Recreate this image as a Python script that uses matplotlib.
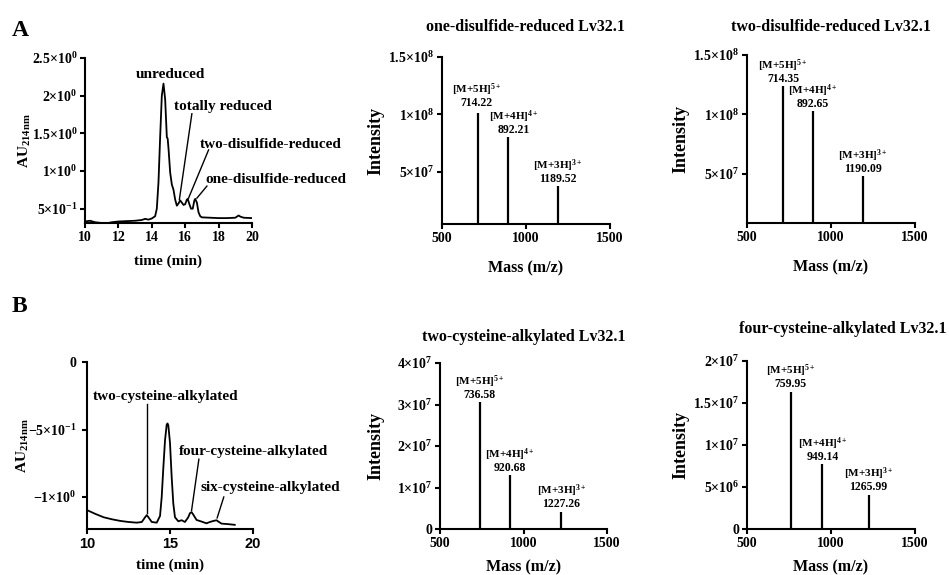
import numpy as np
import matplotlib
matplotlib.use("Agg")
import matplotlib.pyplot as plt

plt.rcParams['font.family'] = ['Liberation Serif', 'DejaVu Serif']
plt.rcParams['font.weight'] = 'bold'
plt.rcParams['axes.labelweight'] = 'bold'
plt.rcParams['axes.titleweight'] = 'bold'
plt.rcParams['mathtext.fontset'] = 'custom'
plt.rcParams['mathtext.rm'] = 'Liberation Serif:bold'
plt.rcParams['mathtext.bf'] = 'Liberation Serif:bold'
plt.rcParams['mathtext.it'] = 'Liberation Serif:bold:italic'

# --- chromatogram A (reduction) ---
a_time = [10.0, 10.3, 10.6, 11.0, 11.3, 11.6, 12.0, 12.5, 13.0, 13.4, 13.6, 13.8, 14.0,
          14.2, 14.3, 14.4, 14.5, 14.6, 14.7, 14.8, 14.9, 14.95, 15.0, 15.1, 15.2, 15.3,
          15.4, 15.5, 15.6, 15.7, 15.8, 15.9, 16.0, 16.1, 16.15, 16.25, 16.35, 16.45,
          16.55, 16.6, 16.7, 16.8, 16.9, 17.0, 17.5, 18.0, 18.5, 19.0, 19.1, 19.2, 19.3,
          19.5, 20.0]
a_au = [0.33, 0.34, 0.32, 0.31, 0.305, 0.32, 0.33, 0.335, 0.34, 0.35, 0.365, 0.355, 0.37,
        0.40, 0.50, 0.85, 1.45, 2.0, 2.16, 1.95, 1.45, 1.43, 1.30, 0.98, 0.82, 0.75,
        0.62, 0.54, 0.57, 0.61, 0.58, 0.55, 0.56, 0.62, 0.63, 0.56, 0.50, 0.50,
        0.61, 0.63, 0.58, 0.45, 0.40, 0.385, 0.38, 0.375, 0.375, 0.38, 0.395, 0.41, 0.395,
        0.38, 0.375]
a_yticks = [0.5, 1.0, 1.5, 2.0, 2.5]
a_yticklabels = [r"$5{\times}10^{-1}$", r"$1{\times}10^{0}$", r"$1.5{\times}10^{0}$",
                 r"$2{\times}10^{0}$", r"$2.5{\times}10^{0}$"]

# --- chromatogram B (alkylation) ---
b_time = [10.0, 10.5, 11.0, 11.5, 12.0, 12.5, 13.0, 13.3, 13.5, 13.6, 13.7, 13.9, 14.2,
          14.4, 14.5, 14.6, 14.7, 14.8, 14.85, 14.9, 15.0, 15.1, 15.2, 15.3, 15.5, 15.7,
          15.9, 16.1, 16.2, 16.3, 16.4, 16.6, 16.9, 17.2, 17.4, 17.6, 17.8, 17.95, 18.1,
          18.5, 18.9]
b_au = [-1.097, -1.125, -1.15, -1.165, -1.177, -1.185, -1.19, -1.185, -1.15, -1.134, -1.15,
        -1.185, -1.19, -1.14, -1.0, -0.78, -0.58, -0.465, -0.455, -0.47, -0.6, -0.85,
        -1.05, -1.15, -1.18, -1.172, -1.185, -1.15, -1.12, -1.112, -1.13, -1.17, -1.182,
        -1.195, -1.185, -1.178, -1.172, -1.185, -1.197, -1.201, -1.206]
b_yticks = [0.0, -0.5, -1.0]
b_yticklabels = ["0", r"$-5{\times}10^{-1}$", r"$-1{\times}10^{0}$"]

# --- mass spectra ---
ions = [r"[M+5H]$^{5+}$", r"[M+4H]$^{4+}$", r"[M+3H]$^{3+}$"]

ms1_title = "one-disulfide-reduced Lv32.1"
ms1_mz = [714.22, 892.21, 1189.52]
ms1_int = [1.01e8, 0.80e8, 0.375e8]

ms2_title = "two-disulfide-reduced Lv32.1"
ms2_mz = [714.35, 892.65, 1190.09]
ms2_int = [1.24e8, 1.03e8, 0.48e8]

ms3_title = "two-cysteine-alkylated Lv32.1"
ms3_mz = [736.58, 920.68, 1227.26]
ms3_int = [3.05e7, 1.30e7, 0.42e7]

ms4_title = "four-cysteine-alkylated Lv32.1"
ms4_mz = [759.95, 949.14, 1265.99]
ms4_pos = [759.95, 949.14, 1224.0]
ms4_int = [1.635e7, 0.77e7, 0.41e7]

ms_a_yticks = [5e7, 1e8, 1.5e8]
ms_a_yticklabels = [r"$5{\times}10^{7}$", r"$1{\times}10^{8}$", r"$1.5{\times}10^{8}$"]
ms3_yticks = [0, 1e7, 2e7, 3e7, 4e7]
ms3_yticklabels = ["0", r"$1{\times}10^{7}$", r"$2{\times}10^{7}$", r"$3{\times}10^{7}$",
                   r"$4{\times}10^{7}$"]
ms4_yticks = [0, 5e6, 1e7, 1.5e7, 2e7]
ms4_yticklabels = ["0", r"$5{\times}10^{6}$", r"$1{\times}10^{7}$", r"$1.5{\times}10^{7}$",
                   r"$2{\times}10^{7}$"]

W, H = 949, 575
fig = plt.figure(figsize=(W / 100, H / 100), dpi=100)


def make_ax(l, r, t, b):
    ax = fig.add_axes([l / W, 1 - b / H, (r - l) / W, (b - t) / H])
    for s in ['top', 'right']:
        ax.spines[s].set_visible(False)
    for s in ['left', 'bottom']:
        ax.spines[s].set_linewidth(1.5)
    ax.tick_params(direction='out', width=1.5, length=3.5, pad=2)
    return ax


def style_ms(ax, title, pos, mz, inten, ylim, yticks, yticklabels, tpad, tshift=0.0,
             xpad=11, ypad=3, lab_dx=(0, 0, 0), lab_dy=(3, 3, 3)):
    ax.vlines(pos, 0, inten, color='black', lw=1.6)
    ax.set_xlim(500, 1500)
    ax.set_ylim(*ylim)
    ax.set_xticks([500, 1000, 1500])
    ax.set_yticks(yticks)
    ax.set_yticklabels(yticklabels)
    ax.tick_params(axis='x', labelsize=10)
    ax.tick_params(axis='y', labelsize=10)
    ax.set_xlabel("Mass (m/z)", fontsize=11.5, labelpad=xpad)
    ax.set_ylabel("Intensity", fontsize=13, labelpad=ypad)
    t = ax.set_title(title, fontsize=11.5, pad=tpad)
    t.set_x(0.5 + tshift)
    for x, m, h, ion, dx, dy in zip(pos, mz, inten, ions, lab_dx, lab_dy):
        ax.annotate(f"{m:.2f}", xy=(x, h), xytext=(dx, dy), textcoords='offset points',
                    ha='center', va='baseline', fontsize=8.5)
        ax.annotate(ion, xy=(x, h), xytext=(dx, dy + 9.5), textcoords='offset points',
                    ha='center', va='baseline', fontsize=8)


# ---------- A: chromatogram ----------
ax = make_ax(85, 252, 58, 223)
ax.plot(a_time, a_au, color='black', lw=1.3)
ax.set_xlim(10, 20)
ax.set_ylim(0.31, 2.5)
ax.set_xticks([10, 12, 14, 16, 18, 20])
ax.set_yticks(a_yticks)
ax.set_yticklabels(a_yticklabels)
ax.tick_params(axis='x', labelsize=10)
ax.tick_params(axis='y', labelsize=10)
ax.set_xlabel("time (min)", fontsize=11, labelpad=8)
ax.set_ylabel(r"$\mathrm{AU}_{\mathrm{214nm}}$", fontsize=11, labelpad=-1)
ax.text(15.1, 2.28, "unreduced", ha='center', va='center', fontsize=11)
ax.text(15.3, 1.85, "totally reduced", ha='left', va='center', fontsize=11, clip_on=False)
ax.plot([16.4, 15.65], [1.76, 0.62], color='black', lw=1.0)
ax.text(16.85, 1.35, "two-disulfide-reduced", ha='left', va='center', fontsize=11, clip_on=False)
ax.plot([17.4, 16.2], [1.28, 0.64], color='black', lw=1.0)
ax.text(17.2, 0.89, "one-disulfide-reduced", ha='left', va='center', fontsize=11, clip_on=False)
ax.plot([17.3, 16.7], [0.80, 0.64], color='black', lw=1.0)

# ---------- A: mass spectra ----------
ax = make_ax(442, 610, 57, 224)
style_ms(ax, ms1_title, ms1_mz, ms1_mz, ms1_int, (4.5e6, 1.5e8), ms_a_yticks, ms_a_yticklabels, 19,
         lab_dx=(-1, 4, 0), lab_dy=(5, 3, 3))
ax = make_ax(747, 915, 55, 223)
style_ms(ax, ms2_title, ms2_mz, ms2_mz, ms2_int, (8.5e6, 1.5e8), ms_a_yticks, ms_a_yticklabels, 17)

# ---------- B: chromatogram ----------
ax = make_ax(87, 253, 362, 529)
ax.plot(b_time, b_au, color='black', lw=1.3)
ax.set_xlim(10, 20)
ax.set_ylim(-1.237, 0)
ax.set_xticks([10, 15, 20])
ax.set_yticks(b_yticks)
ax.set_yticklabels(b_yticklabels)
for lab in ax.get_xticklabels():
    lab.set_fontfamily('Liberation Sans')
ax.tick_params(axis='x', labelsize=10.5)
ax.tick_params(axis='y', labelsize=10, pad=4)
ax.set_xlabel("time (min)", fontsize=11, labelpad=6)
ax.set_ylabel(r"$\mathrm{AU}_{\mathrm{214nm}}$", fontsize=11, labelpad=-2)
ax.text(10.36, -0.256, "two-cysteine-alkylated", ha='left', va='center', fontsize=11)
ax.plot([13.6, 13.6], [-0.31, -1.12], color='black', lw=1.0)
ax.text(15.54, -0.66, "four-cysteine-alkylated", ha='left', va='center', fontsize=11, clip_on=False)
ax.plot([16.74, 16.3], [-0.72, -1.10], color='black', lw=1.0)
ax.text(16.84, -0.93, "six-cysteine-alkylated", ha='left', va='center', fontsize=11, clip_on=False)
ax.plot([18.24, 17.84], [-1.0, -1.155], color='black', lw=1.0)

# ---------- B: mass spectra ----------
ax = make_ax(440, 607, 363, 529)
style_ms(ax, ms3_title, ms3_mz, ms3_mz, ms3_int, (0, 4e7), ms3_yticks, ms3_yticklabels, 16,
         xpad=7, ypad=9)
ax = make_ax(747, 915, 361, 529)
style_ms(ax, ms4_title, ms4_pos, ms4_mz, ms4_int, (0, 2e7), ms4_yticks, ms4_yticklabels, 20,
         12 / 168, xpad=7)

fig.text(12 / W, 1 - 30 / H, "A", fontsize=17, fontweight='bold', va='center')
fig.text(12 / W, 1 - 307 / H, "B", fontsize=17, fontweight='bold', va='center')

fig.savefig("out.png", dpi=100)
